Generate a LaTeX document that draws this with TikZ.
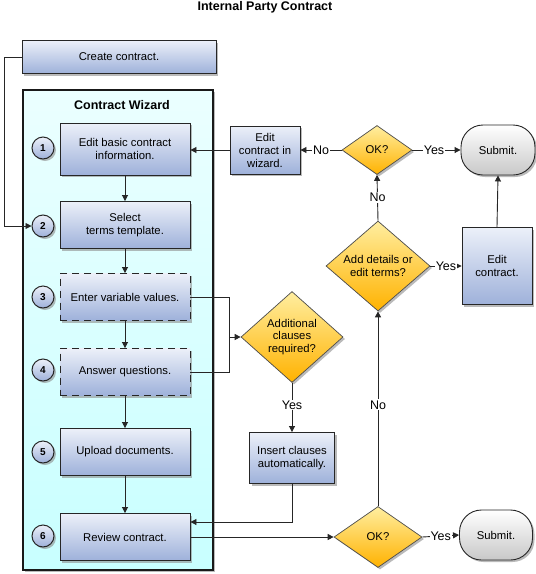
\documentclass[tikz,border=0pt]{standalone}
\usepackage{fontspec}
\setmainfont{Liberation Sans}
\usetikzlibrary{shapes.geometric,shapes.misc,shadows,arrows.meta}
\definecolor{boxtop}{RGB}{236,240,249}
\definecolor{boxbot}{RGB}{158,177,218}
\definecolor{dtop}{RGB}{255,238,160}
\definecolor{dbot}{RGB}{255,178,0}
\definecolor{wiztop}{RGB}{235,255,255}
\definecolor{wizbot}{RGB}{200,255,255}
\definecolor{subtop}{RGB}{255,255,255}
\definecolor{subbot}{RGB}{200,200,200}
\begin{document}
\begin{tikzpicture}[x=1pt,y=-1pt,
  txt/.style={font=\fontsize{11.3}{13}\selectfont},
  shad/.style={drop shadow={shadow xshift=2pt,shadow yshift=-2pt,fill=black!45,opacity=0.6}},
  box/.style={rectangle,draw=black!85,line width=0.9pt,top color=boxtop,bottom color=boxbot,
    align=center,txt,inner sep=0pt,shad},
  stepbox/.style={box,minimum width=130pt,minimum height=47pt},
  dashbox/.style={stepbox,dash pattern=on 7pt off 5pt},
  num/.style={circle,draw=black!85,line width=1pt,top color=boxtop,bottom color=boxbot,
    minimum size=22pt,inner sep=0pt,font=\fontsize{10}{11}\selectfont\bfseries,shad},
  dia/.style={diamond,draw=black!70,line width=0.7pt,top color=dtop,bottom color=dbot,
    align=center,font=\fontsize{11.3}{12.5}\selectfont,inner sep=0pt,aspect=1.12,shad},
  subm/.style={rectangle,rounded corners=22pt,draw=black!85,line width=0.9pt,top color=subtop,
    bottom color=subbot,align=center,txt,minimum width=74pt,minimum height=50pt,shad},
  conn/.style={line width=0.9pt,draw=black!85},
  arr/.style={conn,-{Triangle[length=6pt,width=6pt]}},
  lbl/.style={fill=white,inner sep=1pt,font=\fontsize{12.5}{14}\selectfont}
]
\useasboundingbox (0,0) rectangle (536,574);
\node[font=\fontsize{12.5}{14}\selectfont\bfseries] (title) at (265,7) {Internal Party Contract};
\node[box,minimum width=194pt,minimum height=33pt] (create) at (119,57) {Create contract.};
% wizard
\node[rectangle,draw=black!90,line width=1.3pt,top color=wiztop,bottom color=wizbot,
  minimum width=190pt,minimum height=480pt,shad] (wiz) at (118,330) {};
\node[font=\fontsize{12.5}{14}\selectfont\bfseries] (wizt) at (122,105) {Contract Wizard};
\node[stepbox,minimum height=52pt] (b1) at (125,149) {Edit basic contract\\information.};
\node[stepbox] (b2) at (125,225) {Select\\terms template.};
\node[dashbox] (b3) at (125,297) {Enter variable values.};
\node[dashbox] (b4) at (125,372) {Answer questions.};
\node[stepbox] (b5) at (125,452) {Upload documents.};
\node[stepbox] (b6) at (125,537) {Review contract.};
\node[num] (n1) at (43,148) {1};
\node[num] (n2) at (43,226) {2};
\node[num] (n3) at (43,297) {3};
\node[num] (n4) at (43,370) {4};
\node[num] (n5) at (43,452) {5};
\node[num] (n6) at (43,536) {6};
% right side
\node[box,minimum width=70pt,minimum height=48pt] (ew) at (265,150) {Edit\\contract in\\wizard.};
\node[dia,minimum width=70pt,minimum height=49pt] (ok1) at (377,150) {OK?};
\node[subm] (s1) at (498,150) {Submit.};
\node[dia,minimum width=104pt,minimum height=90pt] (add) at (378,266) {Add details or\\edit terms?};
\node[box,minimum width=70pt,minimum height=77pt] (ec) at (497,266) {Edit\\contract.};
\node[dia,minimum width=102pt,minimum height=91pt] (acl) at (292,337) {Additional\\clauses\\required?};
\node[box,minimum width=85pt,minimum height=51pt] (ins) at (292,458) {Insert clauses\\automatically.};
\node[dia,minimum width=88pt,minimum height=61pt] (ok2) at (378,537) {OK?};
\node[subm,minimum width=73pt] (s2) at (496,535) {Submit.};
% connectors
\coordinate (cl) at (4,57);
\draw[arr] (create.west) -- (cl) |- (n2.west);
\draw[arr] (b1) -- (b2);
\draw[arr] (b2) -- (b3);
\draw[arr] (b3) -- (b4);
\draw[arr] (b4) -- (b5);
\draw[arr] (b5) -- (b6);
\coordinate (jx) at (229,337);
\draw[conn] (b3.east) -| (jx);
\draw[conn] (b4.east) -| (jx);
\draw[arr] (jx) -- (acl.west);
\draw[arr] (acl.south) -- node[lbl,pos=0.45] {Yes} (ins.north);
\coordinate (ib) at (292,522);
\draw[arr] (ins.south) -- (ib) -- (b6.east |- ib);
\draw[arr] (b6.east) -- (ok2.west);
\draw[arr] (ok2.east) -- node[lbl,pos=0.5] {Yes} (s2.west);
\draw[arr] (ok2.north) -- node[lbl,pos=0.52] {No} (add.south);
\draw[arr] (add.east) -- node[lbl,pos=0.5] {Yes} (ec.west);
\draw[arr] (ec.north) -- (s1.south);
\draw[arr] (add.north) -- node[lbl,pos=0.5] {No} (ok1.south);
\draw[arr] (ok1.east) -- node[lbl,pos=0.45] {Yes} (s1.west);
\draw[arr] (ok1.west) -- node[lbl,pos=0.5] {No} (ew.east);
\draw[arr] (ew.west) -- (b1.east |- ew.west);
\end{tikzpicture}
\end{document}
